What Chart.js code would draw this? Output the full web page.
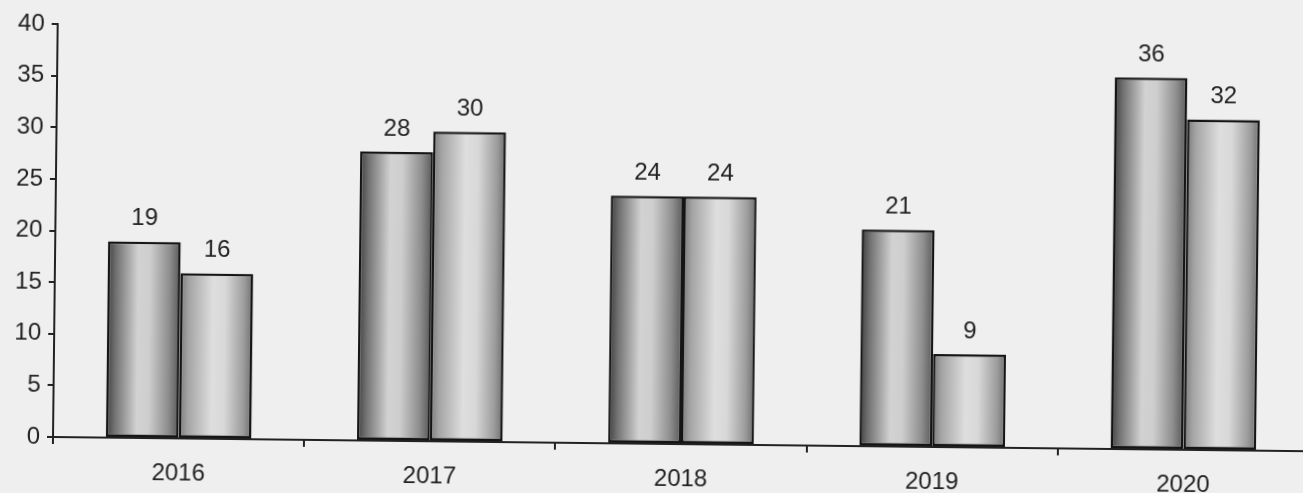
<!DOCTYPE html>
<html>
<head>
<meta charset="utf-8">
<script src="https://cdn.jsdelivr.net/npm/chart.js@4/dist/chart.umd.min.js"></script>
<style>
  html, body { margin: 0; padding: 0; background: #efefef; overflow: hidden; }
  #wrap {
    width: 1320px; height: 493px; position: relative;
    transform-origin: 53px 437px;
    transform: rotate(0.65deg);
  }
</style>
</head>
<body>
<div id="wrap"><canvas id="graphic"></canvas></div>
<script>
  // données
  const years = ['2016', '2017', '2018', '2019', '2020'];
  const serieA = [19, 28, 24, 21, 36];
  const serieB = [16, 30, 24, 9, 32];
  const yTicks = [0, 5, 10, 15, 20, 25, 30, 35, 40];

  const FONT = '"Liberation Sans", Arial, sans-serif';
  const CAT_PCT = 0.58;

  // dégradé "cylindre" pour chaque barre
  const stopsA = [[0, '#404040'], [0.12, '#727272'], [0.42, '#d2d2d2'], [0.58, '#cecece'], [0.85, '#8e8e8e'], [1, '#585858']];
  const stopsB = [[0, '#7a7a7a'], [0.12, '#a4a4a4'], [0.45, '#dedede'], [0.62, '#d8d8d8'], [0.88, '#9c9c9c'], [1, '#6e6e6e']];

  function barGradient(context, stops) {
    const chart = context.chart;
    const x = chart.scales.x;
    if (!x || !chart.chartArea) return '#cccccc';
    const catW = x.width / years.length;
    const barW = catW * CAT_PCT / 2;
    const center = x.getPixelForValue(context.dataIndex);
    const left = center - catW * CAT_PCT / 2 + context.datasetIndex * barW;
    const g = chart.ctx.createLinearGradient(left, 0, left + barW, 0);
    stops.forEach(s => g.addColorStop(s[0], s[1]));
    return g;
  }

  // étiquettes au-dessus des barres
  const valueLabels = {
    id: 'valueLabels',
    afterDatasetsDraw(chart) {
      const ctx = chart.ctx;
      ctx.save();
      ctx.font = '24px ' + FONT;
      ctx.fillStyle = '#222222';
      ctx.textAlign = 'center';
      ctx.textBaseline = 'bottom';
      chart.data.datasets.forEach((ds, i) => {
        chart.getDatasetMeta(i).data.forEach((el, j) => {
          ctx.fillText(String(ds.data[j]), el.x, el.y - 11);
        });
      });
      ctx.restore();
    }
  };

  new Chart(document.getElementById('graphic'), {
    type: 'bar',
    data: {
      labels: years,
      datasets: [
        { data: serieA, backgroundColor: c => barGradient(c, stopsA) },
        { data: serieB, backgroundColor: c => barGradient(c, stopsB) }
      ]
    },
    options: {
      responsive: true,
      maintainAspectRatio: false,
      animation: false,
      layout: { padding: { top: 24, right: 11, left: 0, bottom: 0 } },
      datasets: {
        bar: {
          categoryPercentage: CAT_PCT,
          barPercentage: 1,
          borderColor: '#151515',
          borderWidth: 2.5,
          borderSkipped: false
        }
      },
      plugins: { legend: { display: false }, tooltip: { enabled: false } },
      scales: {
        x: {
          offset: true,
          grid: { offset: true, drawOnChartArea: false, drawTicks: true, tickLength: 7, color: '#222222', lineWidth: 2 },
          border: { color: '#222222', width: 2 },
          ticks: { color: '#222222', font: { family: FONT, size: 24 }, padding: 14 },
          afterFit: s => { s.height = 56; }
        },
        y: {
          min: 0, max: 40,
          afterBuildTicks: s => { s.ticks = yTicks.map(v => ({ value: v })); },
          grid: { drawOnChartArea: false, drawTicks: true, tickLength: 6, color: '#222222', lineWidth: 2 },
          border: { color: '#222222', width: 2 },
          ticks: { color: '#222222', font: { family: FONT, size: 24 }, padding: 7 },
          afterFit: s => { s.width = 53; }
        }
      }
    },
    plugins: [valueLabels]
  });
</script>
</body>
</html>
